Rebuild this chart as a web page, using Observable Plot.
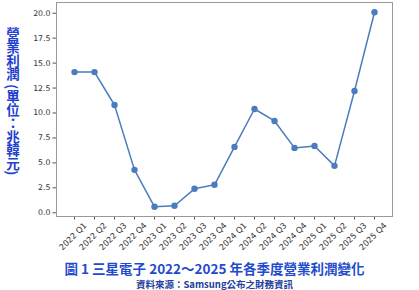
<!DOCTYPE html>
<html>
<head>
<meta charset="utf-8">
<script src="https://cdn.jsdelivr.net/npm/d3@7"></script>
<script src="https://cdn.jsdelivr.net/npm/@observablehq/plot@0.6"></script>
<style>
  html, body { margin: 0; padding: 0; background: #fff; }
  #wrap { position: relative; width: 419px; height: 290px; overflow: hidden; }
  #ylabel {
    position: absolute; left: 5px; top: 27px;
    writing-mode: vertical-rl; text-orientation: mixed;
    font-family: "Noto Sans CJK TC", sans-serif; font-weight: bold;
    font-size: 13.5px; color: #1f3fcf; line-height: 16px;
  }
  #title {
    position: absolute; left: 10px; right: 0; top: 261px; text-align: center;
    font-family: "Noto Sans CJK TC", sans-serif; font-weight: bold;
    font-size: 13.5px; line-height: 15px; color: #1f4bcc; white-space: nowrap;
  }
  #source {
    position: absolute; left: 10px; right: 0; top: 279px; text-align: center;
    font-family: "Noto Sans CJK TC", sans-serif; font-weight: bold;
    font-size: 9.5px; line-height: 10px; color: #23409a; white-space: nowrap;
  }
  svg { display: block; }
</style>
</head>
<body>
<div id="wrap">
  <div id="chart"></div>
  <div id="ylabel">營業利潤 (單位：兆韓元)</div>
  <div id="title">圖 1 三星電子 2022～2025 年各季度營業利潤變化</div>
  <div id="source">資料來源：Samsung公布之財務資訊</div>
</div>
<script>
// Quarterly operating profit, trillion KRW
const quarters = [
  "2022 Q1", "2022 Q2", "2022 Q3", "2022 Q4",
  "2023 Q1", "2023 Q2", "2023 Q3", "2023 Q4",
  "2024 Q1", "2024 Q2", "2024 Q3", "2024 Q4",
  "2025 Q1", "2025 Q2", "2025 Q3", "2025 Q4"
];
const profits = [14.1, 14.1, 10.8, 4.3, 0.6, 0.7, 2.4, 2.8, 6.6, 10.4, 9.2, 6.5, 6.7, 4.7, 12.2, 20.1];
const yTicks = [0, 2.5, 5, 7.5, 10, 12.5, 15, 17.5, 20];

const rows = quarters.map((q, i) => ({quarter: q, profit: profits[i]}));
const lineColor = "#4a7dbd";
const tickFont = "DejaVu Sans, sans-serif";

const chart = Plot.plot({
  width: 419,
  height: 258,
  marginLeft: 56,
  marginRight: 27,
  marginTop: 2,
  marginBottom: 42,
  style: {background: "#fff", fontFamily: tickFont, fontSize: "7.5px", color: "#333"},
  x: {type: "point", domain: quarters, padding: 0.77},
  y: {domain: [-0.375, 21.075]},
  marks: [
    Plot.axisY({ticks: yTicks, tickFormat: d3.format(".1f"), tickSize: 3.5, tickPadding: 2.5,
      label: null, stroke: "#555", fill: "#333", fontSize: 7.8}),
    Plot.axisX({tickSize: 3.5, tickFormat: () => "", label: null, stroke: "#555"}),
    Plot.text(quarters, {x: d => d, frameAnchor: "bottom", dy: 20, dx: -1.5, rotate: -45,
      textAnchor: "middle", lineAnchor: "middle", fill: "#333", fontSize: 8.2}),
    Plot.frame({stroke: "#999", strokeWidth: 1}),
    Plot.line(rows, {x: "quarter", y: "profit", stroke: lineColor, strokeWidth: 1.5}),
    Plot.dot(rows, {x: "quarter", y: "profit", r: 3.2, fill: lineColor, stroke: "none"})
  ]
});
document.getElementById("chart").appendChild(chart);
</script>
</body>
</html>
